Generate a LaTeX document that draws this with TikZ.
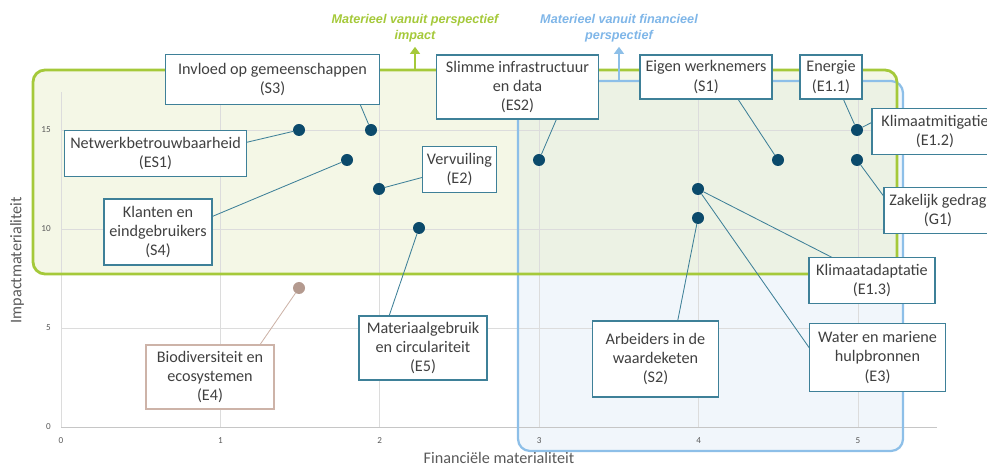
\documentclass[tikz,border=0pt]{standalone}
\usepackage{fontspec}
\setmainfont{Carlito}
\newfontfamily\topfont{Liberation Sans}
\usetikzlibrary{arrows.meta}

\definecolor{impgreen}{HTML}{A5C93A}
\definecolor{impfill}{HTML}{E6EEC8}
\definecolor{finblue}{HTML}{8DBFE8}
\definecolor{fintext}{HTML}{7FB6E8}
\definecolor{finfill}{HTML}{F1F6FB}
\definecolor{dotblue}{HTML}{0B4A6B}
\definecolor{lblline}{HTML}{3E8098}
\definecolor{txtgray}{HTML}{404040}
\definecolor{axgray}{HTML}{595959}
\definecolor{gridgray}{HTML}{DCDCDC}
\definecolor{biobrown}{HTML}{B49A8F}
\definecolor{bioline}{HTML}{CDB3A8}

\tikzset{
	lbl/.style={draw=lblline, line width=0.8pt, fill=white, align=center, text=txtgray,
		font=\fontsize{11.5}{13.8}\selectfont, inner sep=0pt},
	boxsize/.style 2 args={minimum width=#1cm, minimum height=#2cm},
	dot/.style={circle, fill=dotblue, inner sep=0pt, minimum size=0.3cm},
	conn/.style={draw=lblline, line width=0.6pt},
	gridln/.style={gridgray, line width=0.5pt},
	ticklbl/.style={text=axgray, font=\fontsize{6.5}{8}\selectfont, inner sep=0pt},
	axlbl/.style={text=axgray, font=\fontsize{11.5}{13.8}\selectfont, inner sep=0pt},
	toplbl/.style={align=center, font=\topfont\bfseries\itshape\fontsize{9}{11.3}\selectfont}
}

\begin{document}
\begin{tikzpicture}[x=0.025cm, y=-0.025cm]
	
	\useasboundingbox (0,0) rectangle (987,465);
	\clip (0,0) rectangle (987,465);
	
	\fill[finfill, rounded corners=0.3cm] (518,81) rectangle (903,451);
	\fill[impfill, fill opacity=0.45, rounded corners=0.3cm] (33,70) rectangle (897,274);
	
	\foreach \i in {0,...,5}
		\draw[gridln] ({61+159.4*\i},92) -- ({61+159.4*\i},427);
	\foreach \j in {5,10,15}
		\draw[gridln] (61,{427-19.8*\j}) -- (937,{427-19.8*\j});
	\draw[gridgray!90!black, line width=0.7pt] (61,427) -- (937,427);
	
	\foreach \i in {0,...,5}
		\node[ticklbl] (xt\i) at ({61+159.4*\i},441) {\i};
	\foreach \j in {0,5,10,15}
		\node[ticklbl, anchor=east] (yt\j) at (51,{427-19.8*\j}) {\j};
	
	\node[axlbl, rotate=90] (ytitle) at (17,260) {Impactmaterialiteit};
	\node[axlbl, anchor=base] (xtitle) at (499,463.5) {Financiële materialiteit};
	
	\draw[finblue, line width=1.6pt, rounded corners=0.3cm] (518,81) rectangle (903,451);
	\draw[impgreen, line width=2pt, rounded corners=0.3cm] (33,70) rectangle (897,274);
	
	\node[toplbl, text=impgreen] (imptxt) at (415,28) {Materieel vanuit perspectief\\impact};
	\node[toplbl, text=fintext] (fintxt) at (619,28) {Materieel vanuit financieel\\perspectief};
	\coordinate (impbase) at (415,70);
	\coordinate (finbase) at (619,81);
	\draw[impgreen, line width=2pt, -{Triangle[width=7pt,length=5pt]}] (impbase) -- (imptxt.south);
	\draw[finblue, line width=1.6pt, -{Triangle[width=7pt,length=5pt]}] (finbase) -- (fintxt.south);
	
	\node[dot] (p-es1) at (299,130) {};
	\node[dot] (p-s3) at (371,130) {};
	\node[dot] (p-s4) at (347,160) {};
	\node[dot] (p-e2) at (379,189) {};
	\node[dot] (p-e5) at (419,228) {};
	\node[dot, fill=biobrown] (p-e4) at (299,288) {};
	\node[dot] (p-es2) at (539,160) {};
	\node[dot] (p-s1) at (778,160) {};
	\node[dot] (p-e12) at (857,130) {};
	\node[dot] (p-g1) at (857,160) {};
	\node[dot] (p-e13) at (698,189) {};
	\node[dot] (p-s2) at (698,218) {};
	
	\node[lbl, boxsize={5.33}{1.23}] (s3) at (272.5,79.5) {Invloed op gemeenschappen\\(S3)};
	\node[lbl, boxsize={4.53}{1.13}] (es1) at (155.5,153.5) {Netwerkbetrouwbaarheid\\(ES1)};
	\node[lbl, boxsize={2.7}{1.65}] (s4) at (158,232) {Klanten en\\eindgebruikers\\(S4)};
	\node[lbl, boxsize={1.83}{1.13}] (e2) at (459.5,169.5) {Vervuiling\\(E2)};
	\node[lbl, boxsize={4.03}{1.6}] (es2) at (517.5,87) {Slimme infrastructuur\\en data\\(ES2)};
	\node[lbl, boxsize={3.3}{1.1}] (s1) at (706,77) {Eigen werknemers\\(S1)};
	\node[lbl, boxsize={1.55}{1.1}] (e11) at (831,77) {Energie\\(E1.1)};
	\node[lbl, boxsize={3.15}{1.13}] (e12) at (935,131.5) {Klimaatmitigatie\\(E1.2)};
	\node[lbl, boxsize={2.7}{1.13}] (g1) at (938,210.5) {Zakelijk gedrag\\(G1)};
	\node[lbl, boxsize={3.15}{1.13}] (e13) at (872,280.5) {Klimaatadaptatie\\(E1.3)};
	\node[lbl, boxsize={3.38}{1.68}] (e3) at (877.5,357.5) {Water en mariene\\hulpbronnen\\(E3)};
	\node[lbl, boxsize={3.13}{1.9}] (s2) at (655.5,359) {Arbeiders in de\\waardeketen\\(S2)};
	\node[lbl, boxsize={3.2}{1.6}] (e5) at (423,348) {Materiaalgebruik\\en circulariteit\\(E5)};
	\node[lbl, draw=bioline, boxsize={3.2}{1.6}] (e4) at (210,377) {Biodiversiteit en\\ecosystemen\\(E4)};
	
	\draw[conn] (s3.-16) -- (p-s3);
	\draw[conn] (es1.7) -- (p-es1);
	\draw[conn] (s4.16) -- (p-s4);
	\draw[conn] (e2.192) -- (p-e2);
	\draw[conn] (e5.136) -- (p-e5);
	\draw[conn, draw=bioline] (e4.33) -- (p-e4);
	\draw[conn] (es2.-40) -- (p-es2);
	\draw[conn] (s1.-35) -- (p-s1);
	\draw[conn] (e11.-61) -- (p-e12);
	\draw[conn] (e12.172) -- (p-e12);
	\draw[conn] (g1.165) -- (p-g1);
	\draw[conn] (e13.150) -- (p-e13);
	\draw[conn] (e3.172) -- (p-e13);
	\draw[conn] (s2.60) -- (p-s2);
	
\end{tikzpicture}
\end{document}
